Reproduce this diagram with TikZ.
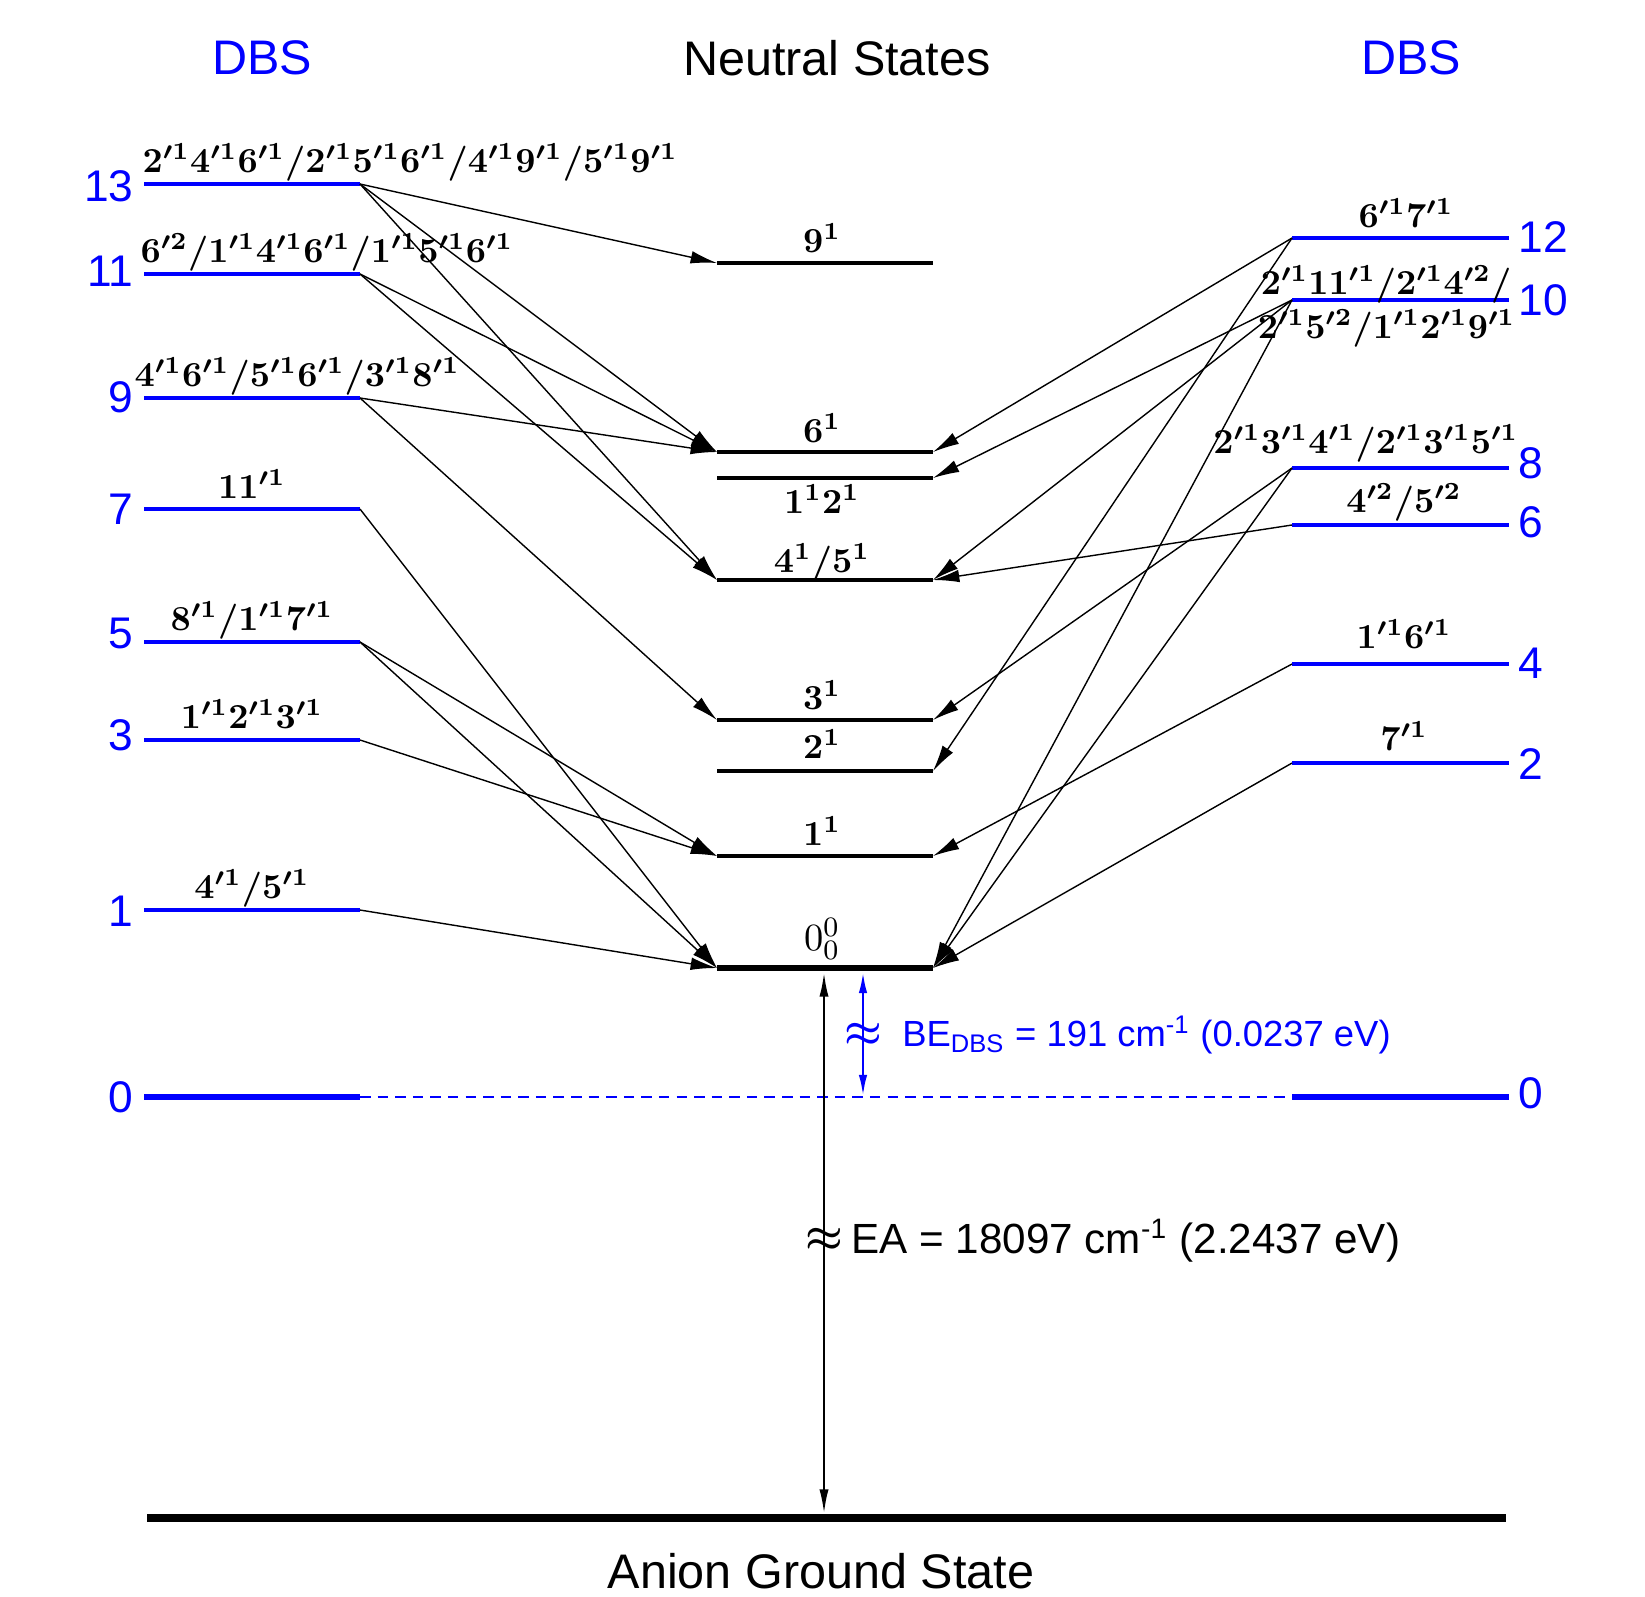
\documentclass[tikz,border=0pt]{standalone}
\usepackage{fontspec}
\setsansfont{Liberation Sans}
\usetikzlibrary{arrows.meta}
\begin{document}
\begin{tikzpicture}[x=0.01cm,y=-0.01cm,
 lev/.style={blue,line width=1pt},
 levzero/.style={blue,line width=1.8pt},
 neu/.style={black,line width=1pt},
 neuzero/.style={black,line width=1.8pt},
 conn/.style={line width=0.4pt,-{Latex[length=7.5pt,width=3.6pt]}},
 num/.style={blue,font=\fontsize{12.6}{14}\selectfont\sffamily,inner sep=0pt},
 ttl/.style={font=\fontsize{13.8}{15}\selectfont\sffamily},
 lbl/.style={font=\fontsize{10}{11}\selectfont\boldmath,inner sep=0pt},
 brk/.style={font=\fontsize{12}{12}\selectfont\boldmath,inner sep=0pt},
]
\useasboundingbox (0,0) rectangle (1645,1596);
% coordinates of level ends
\foreach \n/\y in {13/184,11/274,9/398,7/509,5/642,3/740,1/910,0/1097}{
  \coordinate (La\n) at (144,\y);
  \coordinate (Lb\n) at (360,\y);}
\foreach \n/\y in {12/238,10/300,8/468,6/525,4/664,2/763,0/1097}{
  \coordinate (Ra\n) at (1292,\y);
  \coordinate (Rb\n) at (1509,\y);}
\foreach \n/\y in {9/263,6/452,12/478,45/580,3/720,2/771,1/856,0/968}{
  \coordinate (Ca\n) at (717,\y);
  \coordinate (Cb\n) at (933,\y);}
% titles
\node[ttl,blue] (dbsL) at (262,58) {DBS};
\node[ttl] (neut) at (837,58) {Neutral States};
\node[ttl,blue] (dbsR) at (1411,58) {DBS};
\node[ttl] (anion) at (821,1571) {Anion Ground State};
% levels
\foreach \n in {13,11,9,7,5,3,1}{\draw[lev] (La\n) -- (Lb\n);}
\draw[levzero] (La0) -- (Lb0);
\foreach \n in {12,10,8,6,4,2}{\draw[lev] (Ra\n) -- (Rb\n);}
\draw[levzero] (Ra0) -- (Rb0);
\foreach \n in {9,6,12,45,3,2,1}{\draw[neu] (Ca\n) -- (Cb\n);}
\draw[neuzero] (Ca0) -- (Cb0);
\coordinate (ag1) at (147,1518);
\coordinate (ag2) at (1506,1518);
\draw[line width=2.4pt] (ag1) -- (ag2);
\draw[blue,line width=0.45pt,dash pattern=on 3pt off 2pt] (Lb0) -- (Ra0);
% numbers
\foreach \n/\y in {13/186,11/271,9/397,7/509,5/633,3/735,1/911,0/1097}{
  \node[num,anchor=east] (nL\n) at (134,\y) {\n};}
\foreach \n/\y in {12/237,10/300,8/463,6/522,4/663,2/764,0/1093}{
  \node[num,anchor=west] (nR\n) at (1518,\y) {\n};}
% left labels
\node[lbl,anchor=base west] (t13) at (142,172) {$2'^1 4'^1 6'^1/2'^1 5'^1 6'^1/4'^1 9'^1/5'^1 9'^1$};
\node[lbl,anchor=base west] (t11) at (140,262) {$6'^2/1'^1 4'^1 6'^1/1'^1 5'^1 6'^1$};
\node[lbl,anchor=base west] (t9) at (134,386) {$4'^1 6'^1/5'^1 6'^1/3'^1 8'^1$};
\node[lbl,anchor=base] (t7) at (252,498) {$11'^1$};
\node[lbl,anchor=base] (t5) at (252,630) {$8'^1/1'^1 7'^1$};
\node[lbl,anchor=base] (t3) at (252,728) {$1'^1 2'^1 3'^1$};
\node[lbl,anchor=base] (t1) at (252,898) {$4'^1/5'^1$};
% right labels
\node[lbl,anchor=base] (t12) at (1406,227) {$6'^1 7'^1$};
\node[lbl,anchor=base east] (t10a) at (1512,294) {$2'^1 11'^1/2'^1 4'^2/$};
\node[lbl,anchor=base east] (t10b) at (1516,338) {$2'^1 5'^2/1'^1 2'^1 9'^1$};
\node[lbl,anchor=base east] (t8) at (1519,453) {$2'^1 3'^1 4'^1/2'^1 3'^1 5'^1$};
\node[lbl,anchor=base] (t6) at (1404,512) {$4'^2/5'^2$};
\node[lbl,anchor=base] (t4) at (1404,648) {$1'^1 6'^1$};
\node[lbl,anchor=base] (t2) at (1404,750) {$7'^1$};
% centre labels
\node[lbl,anchor=base] (c9) at (822,252) {$9^1$};
\node[lbl,anchor=base] (c6) at (822,442) {$6^1$};
\node[lbl,anchor=base] (c12) at (822,513) {$1^1 2^1$};
\node[lbl,anchor=base] (c45) at (822,572) {$4^1/5^1$};
\node[lbl,anchor=base] (c3) at (822,709) {$3^1$};
\node[lbl,anchor=base] (c2) at (822,758) {$2^1$};
\node[lbl,anchor=base] (c1) at (822,845) {$1^1$};
\node[font=\fontsize{11}{12}\selectfont,inner sep=0pt,anchor=base] (c0) at (822,950) {$0^0_0$};
% connectors left
\draw[conn] (Lb13) -- (Ca9);
\draw[conn] (Lb13) -- (Ca6);
\draw[conn] (Lb13) -- (Ca45);
\draw[conn] (Lb11) -- (Ca6);
\draw[conn] (Lb11) -- (Ca45);
\draw[conn] (Lb9) -- (Ca6);
\draw[conn] (Lb9) -- (Ca3);
\draw[conn] (Lb7) -- (Ca0);
\draw[conn] (Lb5) -- (Ca1);
\draw[conn] (Lb5) -- (Ca0);
\draw[conn] (Lb3) -- (Ca1);
\draw[conn] (Lb1) -- (Ca0);
% connectors right
\draw[conn] (Ra12) -- (Cb6);
\draw[conn] (Ra12) -- (Cb2);
\draw[conn] (Ra10) -- (Cb12);
\draw[conn] (Ra10) -- (Cb45);
\draw[conn] (Ra10) -- (Cb0);
\draw[conn] (Ra8) -- (Cb3);
\draw[conn] (Ra8) -- (Cb0);
\draw[conn] (Ra6) -- (Cb45);
\draw[conn] (Ra4) -- (Cb1);
\draw[conn] (Ra2) -- (Cb0);
% EA arrow
\coordinate (ea1) at (824,972);
\coordinate (ea2) at (824,1514);
\draw[line width=0.7pt,{Latex[length=7pt,width=2.6pt]}-{Latex[length=7pt,width=2.6pt]}] (ea1) -- (ea2);
\node[brk] (brkEA) at (824,1240) {$\approx$};
\node[anchor=west,font=\fontsize{12}{13}\selectfont\sffamily] (ealab) at (839,1241) {EA = 18097 cm\textsuperscript{-1} (2.2437 eV)};
% BE arrow
\coordinate (be1) at (863,972);
\coordinate (be2) at (863,1096);
\draw[blue,line width=0.7pt,{Latex[length=6pt,width=2.4pt]}-{Latex[length=6pt,width=2.4pt]}] (be1) -- (be2);
\node[brk,blue] (brkBE) at (863,1035) {$\approx$};
\node[anchor=west,blue,font=\fontsize{10.35}{12}\selectfont\sffamily] (belab) at (890,1035) {BE\textsubscript{DBS} = 191 cm\textsuperscript{-1} (0.0237 eV)};
\end{tikzpicture}
\end{document}
